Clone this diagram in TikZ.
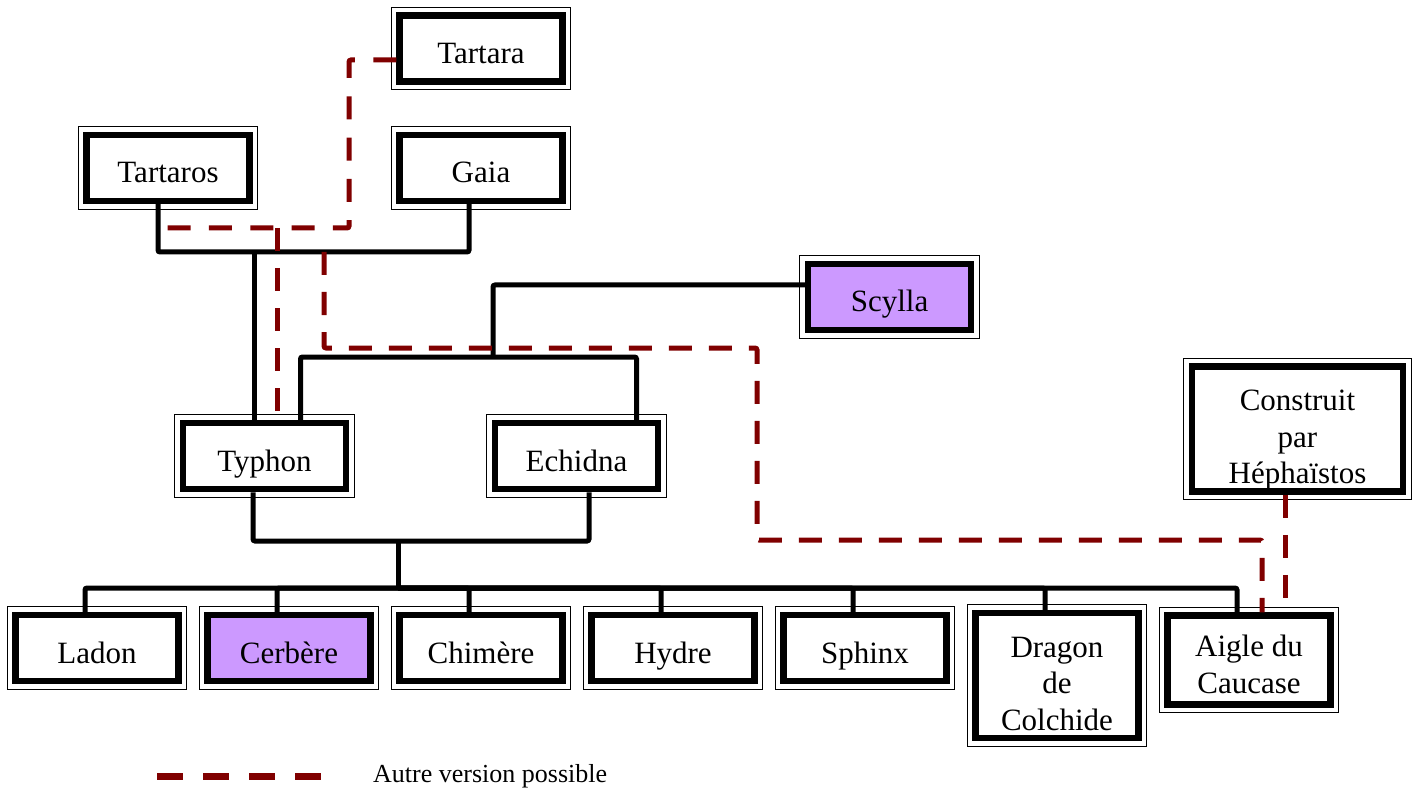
\documentclass[tikz,border=0pt]{standalone}
\usepackage{fontspec}
\setmainfont{Liberation Serif}

\definecolor{rougevar}{HTML}{800000}
\definecolor{violetclair}{HTML}{CC99FF}

\begin{document}
\begin{tikzpicture}[x=1pt, y=-1pt,
  boite/.style={draw, line width=6.5pt, fill=white, minimum width=163pt,
    minimum height=66pt, inner sep=0pt, align=center,
    font=\fontsize{31}{36.5}\selectfont,
    execute at begin node={\rule{0pt}{38pt}},
    execute at end node={\rule[-8pt]{0pt}{8pt}},
    append after command={\pgfextra{\draw[line width=1.3pt]
      ([shift={(-5pt,5pt)}]\tikzlastnode.north west) rectangle
      ([shift={(5pt,-5pt)}]\tikzlastnode.south east);}}},
  lien/.style={line width=5pt, rounded corners=2pt},
  variante/.style={draw=rougevar, line width=5pt, rounded corners=2pt,
    dash pattern=on 23pt off 17pt}]

\useasboundingbox (0,0) rectangle (1421,794);

%% premiere generation
\node[boite] (tartara) at (481,48.5) {Tartara};
\node[boite] (tartaros) at (168,168) {Tartaros};
\node[boite] (gaia) at (481,168) {Gaia};

%% deuxieme generation
\node[boite] (typhon) at (264.5,456) {Typhon};
\node[boite] (echidna) at (576.5,456) {Echidna};
\node[boite, fill=violetclair] (scylla) at (889.5,297) {Scylla};
\node[boite, minimum width=211pt, minimum height=120pt] (hephaistos)
  at (1297.5,429) {\rule{0pt}{44pt}Construit\\par\\Héphaïstos};

%% enfants
\node[boite] (ladon) at (97,648) {Ladon};
\node[boite, fill=violetclair] (cerbere) at (289,648) {Cerbère};
\node[boite] (chimere) at (481,648) {Chimère};
\node[boite] (hydre) at (673,648) {Hydre};
\node[boite] (sphinx) at (865,648) {Sphinx};
\node[boite, minimum height=121pt] (dragon) at (1057,675.5)
  {\rule{0pt}{44pt}Dragon\\de\\Colchide};
\node[boite, minimum height=89pt] (aigle) at (1249,660)
  {\rule{0pt}{38pt}Aigle du\\Caucase};

%% liens de parente
\coordinate (uTG) at (254,252);
\coordinate (uTE) at (493,357);
\coordinate (uEnf) at (398,541);
\coordinate (fratrie) at (398,588);

\draw[lien] ([xshift=-10pt]tartaros.south) |- (uTG) -| ([xshift=-12pt]gaia.south);
\draw[lien] (uTG) -- (uTG |- typhon.north);
\draw[lien] ([xshift=36pt]typhon.north) |- (uTE) -| ([xshift=60pt]echidna.north);
\draw[lien] (uTE) |- ([yshift=12pt]scylla.west);
\draw[lien] ([xshift=-11.5pt]typhon.south) |- (uEnf) -| ([xshift=12.5pt]echidna.south);
\draw[lien] (uEnf) -- (fratrie);
\draw[lien] ([xshift=-12pt]ladon.north) |- (fratrie) -| ([xshift=-12pt]aigle.north);
\foreach \n in {cerbere,chimere,hydre,sphinx,dragon}
  \draw[lien] ([xshift=-12pt]\n.north) |- (fratrie);

%% autre version
\coordinate (vTT) at (349,228);
\coordinate (vTTfin) at (165,228);
\coordinate (vTy) at (277,228);
\coordinate (vG) at (324,252);
\coordinate (vCoude) at (757,348);
\coordinate (vCoude2) at (757,540);
\coordinate (vHeph) at ([xshift=-12.5pt]hephaistos.south);

\draw[variante, dash pattern=on 23pt off 18.3pt]
  ([yshift=-11.5pt]tartara.west) -| (vTT) -- (vTTfin);
\draw[variante] (vTy) -- (vTy |- typhon.north);
\draw[variante] (vG) |- (vCoude) -- (vCoude2) -| ([xshift=13pt]aigle.north);
\draw[variante] (vHeph) -- (vHeph |- aigle.north);

%% legende
\coordinate (legA) at (157,776);
\coordinate (legB) at (323,776);
\draw[variante, line width=7pt, dash pattern=on 26pt off 20pt] (legA) -- (legB);
\node[anchor=west, inner sep=0pt, font=\fontsize{26}{30}\selectfont] (legende)
  at (373,776) {Autre version possible};

\end{tikzpicture}
\end{document}
